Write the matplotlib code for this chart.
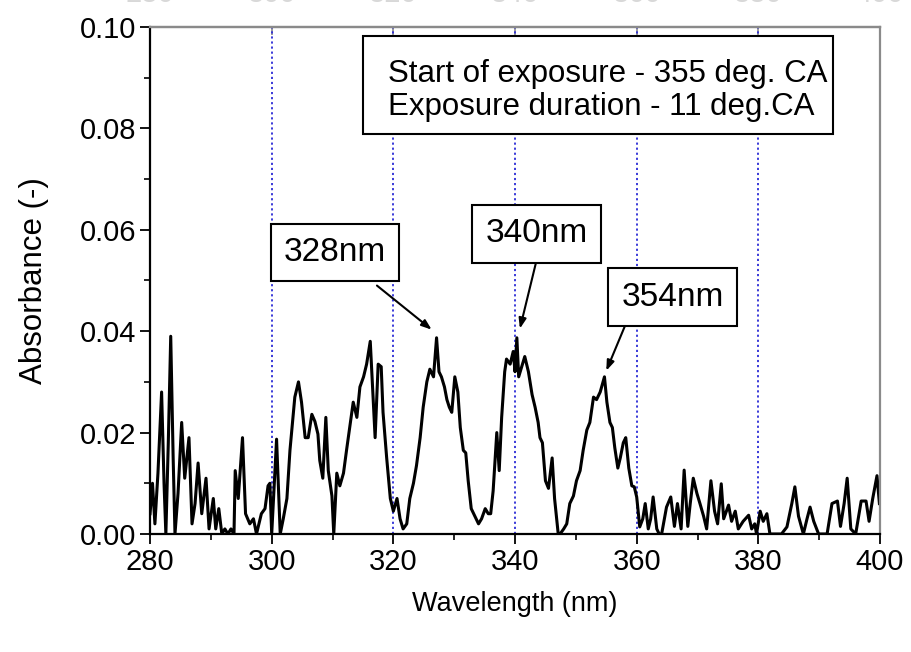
import matplotlib
matplotlib.use("Agg")
import matplotlib.pyplot as plt
from matplotlib.patches import Rectangle
from matplotlib.ticker import MultipleLocator

plt.rcParams['font.family'] = ['Liberation Sans', 'DejaVu Sans']

wavelength = [
    280.0, 280.4, 280.8, 281.3, 281.9, 282.3, 282.6, 283.0, 283.4, 283.8,
    284.1, 284.6, 285.2, 285.7, 286.4, 286.9, 287.4, 287.9, 288.5, 289.2,
    289.7, 290.4, 290.8, 291.3, 291.8, 292.3, 292.8, 293.3, 293.8, 294.0,
    294.5, 295.2, 295.7, 296.4, 297.0, 297.5, 298.3, 298.9, 299.4, 299.7,
    300.0, 300.8, 301.4, 301.9, 302.5, 303.0, 303.8, 304.4, 304.9, 305.5,
    306.0, 306.6, 307.1, 307.6, 307.9, 308.4, 308.9, 309.3, 309.9, 310.2,
    310.7, 311.2, 311.8, 312.3, 312.9, 313.4, 314.0, 314.5, 315.1, 315.6,
    316.2, 316.5, 317.0, 317.5, 318.0, 318.3, 318.9, 319.5, 320.0, 320.6,
    321.1, 321.6, 322.2, 322.7, 323.3, 323.8, 324.4, 324.9, 325.5, 326.0,
    326.6, 327.1, 327.5, 327.9, 328.4, 328.8, 329.2, 329.6, 330.1, 330.6,
    331.0, 331.5, 331.9, 332.3, 332.8, 333.4, 334.0, 334.5, 335.1, 335.6,
    336.0, 336.4, 337.0, 337.4, 337.8, 338.3, 338.6, 339.2, 339.7, 340.0,
    340.3, 340.6, 341.1, 341.6, 342.2, 342.8, 343.3, 343.8, 344.1, 344.5,
    345.0, 345.5, 346.1, 346.5, 347.1, 347.4, 348.0, 348.5, 349.0, 349.6,
    350.1, 350.7, 351.2, 351.8, 352.3, 352.9, 353.4, 354.0, 354.7, 355.1,
    355.6, 356.0, 356.4, 356.9, 357.3, 357.8, 358.2, 358.7, 359.2, 359.6,
    360.0, 360.5, 361.0, 361.4, 361.9, 362.3, 362.7, 363.3, 363.7, 364.1,
    364.9, 365.6, 366.2, 366.7, 367.3, 367.8, 368.4, 368.8, 369.3, 369.9,
    370.4, 371.0, 371.5, 372.2, 372.8, 373.3, 373.9, 374.3, 375.1, 375.6,
    376.2, 376.7, 377.5, 378.4, 378.9, 379.4, 379.7, 380.3, 380.8, 381.4,
    381.9, 383.0, 383.8, 384.7, 385.5, 386.0, 386.6, 387.4, 388.0, 388.5,
    389.1, 389.9, 390.5, 391.3, 392.1, 393.0, 393.5, 394.1, 394.6, 395.2,
    396.0, 396.9, 397.7, 398.2, 398.8, 399.5, 399.9,
]
absorbance = [
    0.004, 0.010, 0.002, 0.012, 0.028, 0.010, 0.000, 0.018, 0.039, 0.015,
    0.000, 0.008, 0.022, 0.011, 0.019, 0.002, 0.006, 0.014, 0.004, 0.011,
    0.001, 0.007, 0.001, 0.005, 0.000, 0.001, 0.000, 0.001, 0.000, 0.0125,
    0.007, 0.019, 0.004, 0.002, 0.003, 0.000, 0.004, 0.005, 0.0095, 0.010,
    0.000, 0.0187, 0.000, 0.003, 0.007, 0.0165, 0.027, 0.030, 0.026, 0.019,
    0.019, 0.0236, 0.0222, 0.0197, 0.0145, 0.011, 0.023, 0.0125, 0.0075, 0.000,
    0.012, 0.0095, 0.012, 0.0165, 0.0217, 0.026, 0.023, 0.029, 0.031, 0.0335,
    0.038, 0.031, 0.019, 0.0335, 0.033, 0.024, 0.015, 0.007, 0.0045, 0.007,
    0.003, 0.001, 0.002, 0.007, 0.010, 0.0135, 0.019, 0.025, 0.030, 0.0325,
    0.031, 0.0387, 0.032, 0.031, 0.029, 0.0265, 0.025, 0.024, 0.031, 0.028,
    0.021, 0.0165, 0.016, 0.0105, 0.005, 0.0035, 0.002, 0.003, 0.005, 0.004,
    0.004, 0.0085, 0.020, 0.0125, 0.023, 0.032, 0.0345, 0.0335, 0.036, 0.032,
    0.0387, 0.031, 0.033, 0.035, 0.032, 0.0275, 0.025, 0.022, 0.019, 0.018,
    0.0105, 0.009, 0.015, 0.007, 0.000, 0.000, 0.001, 0.002, 0.006, 0.0075,
    0.0105, 0.0125, 0.0165, 0.0205, 0.022, 0.027, 0.0265, 0.028, 0.031, 0.026,
    0.022, 0.021, 0.017, 0.013, 0.015, 0.018, 0.019, 0.013, 0.0095, 0.0093,
    0.0073, 0.0014, 0.003, 0.006, 0.001, 0.003, 0.0073, 0.001, 0.000, 0.000,
    0.0053, 0.0073, 0.0015, 0.006, 0.001, 0.0126, 0.0015, 0.006, 0.011, 0.008,
    0.006, 0.0035, 0.001, 0.0105, 0.0045, 0.002, 0.0099, 0.003, 0.0057, 0.0025,
    0.0045, 0.001, 0.0025, 0.0037, 0.001, 0.002, 0.000, 0.0045, 0.0025, 0.004,
    0.000, 0.000, 0.000, 0.0014, 0.006, 0.0093, 0.0035, 0.000, 0.003, 0.0053,
    0.0025, 0.000, 0.000, 0.000, 0.006, 0.0065, 0.0015, 0.006, 0.011, 0.001,
    0.000, 0.0065, 0.0065, 0.0025, 0.007, 0.0115, 0.006,
]

grid_lines = [300, 320, 340, 360, 380]
x_ticks = [280, 300, 320, 340, 360, 380, 400]
y_ticks = [0.00, 0.02, 0.04, 0.06, 0.08, 0.10]

peak_labels = ["328nm", "340nm", "354nm"]
peak_tips = [(326.3, 0.0403), (340.8, 0.0405), (355.0, 0.0322)]
label_pos = [(310.4, 0.0555), (343.6, 0.0592), (365.9, 0.0467)]
arrow_starts = [(317.3, 0.0490), (343.5, 0.0538), (358.3, 0.0417)]

info_lines = ["Start of exposure - 355 deg. CA", "Exposure duration - 11 deg.CA"]

fig = plt.figure(figsize=(9.11, 6.52), dpi=100)
ax = fig.add_axes([0.1647, 0.181, 0.8013, 0.7776])

for g in grid_lines:
    ax.axvline(g, color='#2b2bd6', linestyle=(0, (1.2, 1.6)), linewidth=1.3, zorder=1)

ax.plot(wavelength, absorbance, color='black', linewidth=2.2, zorder=2)

ax.set_xlim(280, 400)
ax.set_ylim(0, 0.10)
ax.set_xticks(x_ticks)
ax.set_yticks(y_ticks)
ax.set_yticklabels([f"{v:.2f}" for v in y_ticks])
ax.xaxis.set_minor_locator(MultipleLocator(10))
ax.yaxis.set_minor_locator(MultipleLocator(0.01))
ax.tick_params(axis='both', which='major', direction='out', length=7, width=1.3,
               labelsize=21, pad=3, colors='black')
ax.tick_params(axis='both', which='minor', direction='out', length=4, width=1.2)

for s in ['left', 'bottom']:
    ax.spines[s].set_linewidth(1.6)
    ax.spines[s].set_color('black')
for s in ['top', 'right']:
    ax.spines[s].set_linewidth(1.6)
    ax.spines[s].set_color('#8a8a8a')

sec = ax.secondary_xaxis('top')
sec.set_xticks(x_ticks)
sec.tick_params(direction='in', length=6, width=1.2, color='#8a8a8a',
                labelsize=21, labelcolor='#d8d8d8', pad=14)
sec.spines['top'].set_color('#8a8a8a')
sec.spines['top'].set_linewidth(1.6)

ax.set_xlabel("Wavelength (nm)", fontsize=19.5, labelpad=11)
ax.set_ylabel("Absorbance (-)", fontsize=22.5, labelpad=22)

for lab, tip, pos, st in zip(peak_labels, peak_tips, label_pos, arrow_starts):
    ax.text(pos[0], pos[1], lab, fontsize=24, ha='center', va='center', zorder=5,
            bbox=dict(boxstyle='square,pad=0.4', facecolor='white',
                      edgecolor='black', linewidth=1.5))
    ax.annotate("", xy=tip, xytext=st, zorder=4,
                arrowprops=dict(arrowstyle='-|>,head_length=0.6,head_width=0.22',
                                color='black', lw=1.5, shrinkA=0, shrinkB=0))

ax.add_patch(Rectangle((315.0, 0.0789), 77.3, 0.0193, transform=ax.transData,
                       facecolor='white', edgecolor='black', linewidth=1.5, zorder=5))
ax.text(319.1, 0.0907, info_lines[0], fontsize=22.5, ha='left', va='center', zorder=6)
ax.text(319.1, 0.0843, info_lines[1], fontsize=22.5, ha='left', va='center', zorder=6)

fig.savefig("out.png", dpi=100)
